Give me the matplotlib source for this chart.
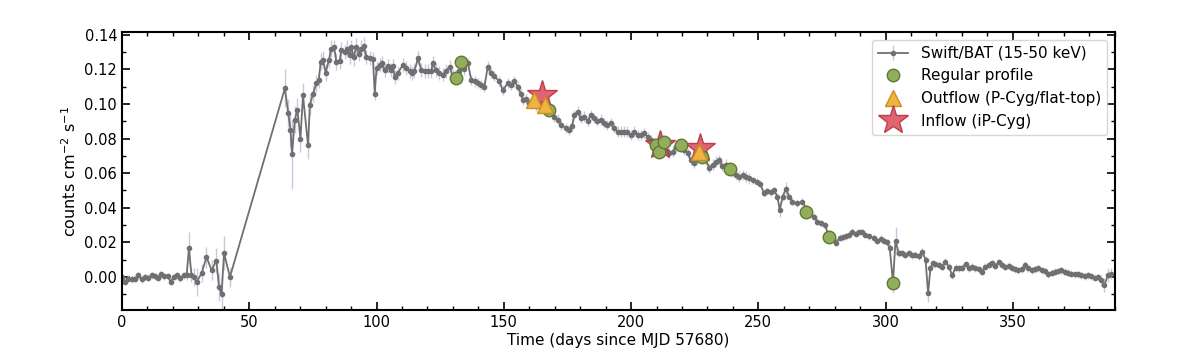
import numpy as np
import matplotlib.pyplot as plt

# Swift/BAT light curve (days since MJD 57680, counts cm^-2 s^-1)
t_quiet = [0.0, 1.2, 2.5, 3.8, 5.1, 6.4, 7.7, 9.0, 10.3, 11.6, 12.9, 14.1, 15.4, 16.7, 18.0, 19.1,
           20.3, 21.6, 22.9, 24.2, 25.4, 26.3, 27.3, 28.3, 29.3, 31.3, 33.2, 35.2, 37.1, 38.1, 39.1,
           40.1, 42.4]
f_quiet = [0.000, -0.0027, -0.001, -0.0012, -0.001, 0.001, -0.0014, 0.000, -0.0005, 0.001, 0.0005,
           -0.0005, 0.0015, 0.0005, 0.0005, -0.0027, 0.000, 0.001, -0.0008, 0.001, 0.001, 0.0168,
           0.001, 0.000, -0.003, 0.0023, 0.0115, 0.004, 0.0095, -0.0056, -0.010, 0.0138, 0.000]
e_quiet = [0.002, 0.002, 0.002, 0.002, 0.002, 0.002, 0.002, 0.002, 0.002, 0.002, 0.002, 0.002,
           0.002, 0.002, 0.002, 0.002, 0.002, 0.002, 0.002, 0.002, 0.003, 0.009, 0.004, 0.005,
           0.008, 0.005, 0.006, 0.006, 0.007, 0.008, 0.010, 0.010, 0.006]

t_rise = [64.0, 65.3, 66.2, 66.8, 67.9, 68.9, 70.1, 71.1, 73.1, 73.8, 75.1, 76.4, 77.3, 78.1, 79.0,
          80.0, 81.3, 82.3, 83.3, 84.2, 85.5, 86.2, 87.5, 88.4, 89.4, 90.1, 91.0, 92.1, 93.1, 94.0,
          95.1, 96.0, 97.3, 98.6, 99.3, 100.0]
f_rise = [0.109, 0.0947, 0.085, 0.071, 0.091, 0.0966, 0.080, 0.105, 0.076, 0.0995, 0.106, 0.112,
          0.114, 0.1245, 0.1255, 0.118, 0.1255, 0.132, 0.133, 0.1245, 0.125, 0.131, 0.130, 0.132,
          0.128, 0.133, 0.127, 0.133, 0.129, 0.132, 0.1335, 0.127, 0.1265, 0.126, 0.106, 0.1207]
e_rise = [0.011, 0.008, 0.010, 0.020, 0.008, 0.007, 0.008, 0.007, 0.008, 0.006, 0.005, 0.005,
          0.005, 0.005, 0.005, 0.005, 0.005, 0.005, 0.004, 0.005, 0.005, 0.005, 0.004, 0.005,
          0.005, 0.004, 0.005, 0.005, 0.004, 0.005, 0.005, 0.004, 0.004, 0.004, 0.004, 0.004]

t_peak = [101.2, 102.3, 103.2, 104.5, 105.8, 106.4, 107.1, 108.4, 110.4, 111.7, 113.0, 114.0, 114.9,
          116.3, 117.6, 118.9, 120.2, 121.5, 122.1, 123.4, 124.7, 126.0, 127.3, 128.7, 130.0, 131.3,
          132.5, 134.5, 135.9, 137.2, 138.5, 139.8, 141.1, 142.4, 143.7, 145.0, 146.3, 148.3, 149.6]
f_peak = [0.1226, 0.1235, 0.1195, 0.122, 0.1195, 0.122, 0.1158, 0.118, 0.1226, 0.1207, 0.1188, 0.118,
          0.119, 0.1265, 0.1195, 0.119, 0.119, 0.119, 0.1235, 0.1195, 0.118, 0.117, 0.119, 0.1216,
          0.116, 0.117, 0.119, 0.120, 0.1235, 0.114, 0.113, 0.112, 0.111, 0.110, 0.1216, 0.118,
          0.116, 0.113, 0.108]
e_peak = [0.004, 0.004, 0.004, 0.004, 0.004, 0.004, 0.004, 0.004, 0.004, 0.004, 0.004, 0.004, 0.004,
          0.004, 0.004, 0.004, 0.004, 0.004, 0.004, 0.004, 0.004, 0.004, 0.004, 0.004, 0.004, 0.003,
          0.003, 0.003, 0.003, 0.003, 0.003, 0.003, 0.003, 0.003, 0.003, 0.003, 0.003, 0.003, 0.003]

t_decay1 = [151.6, 152.9, 154.2, 155.5, 156.7, 157.6, 158.7, 160.0, 161.4, 162.7, 164.0, 165.3,
            166.5, 167.9, 169.9, 171.2, 172.5, 174.5, 175.8, 176.8, 177.7, 179.0, 180.3, 181.6,
            182.9, 184.2, 185.5, 186.8, 188.1, 189.4, 190.7, 192.0, 193.4, 194.7, 196.0, 197.3,
            198.6, 200.0, 201.3, 202.6, 203.9, 205.2, 206.5, 207.8]
f_decay1 = [0.112, 0.111, 0.113, 0.110, 0.106, 0.1024, 0.103, 0.1005, 0.101, 0.099, 0.100, 0.0985,
            0.0975, 0.096, 0.0927, 0.091, 0.088, 0.086, 0.085, 0.087, 0.0937, 0.0956, 0.092, 0.0927,
            0.090, 0.0937, 0.092, 0.090, 0.091, 0.089, 0.088, 0.089, 0.086, 0.084, 0.084, 0.084,
            0.084, 0.082, 0.084, 0.082, 0.082, 0.083, 0.081, 0.079]
e_decay1 = [0.003, 0.003, 0.003, 0.003, 0.003, 0.003, 0.003, 0.003, 0.003, 0.003, 0.003, 0.003,
            0.003, 0.003, 0.003, 0.003, 0.003, 0.003, 0.003, 0.003, 0.003, 0.003, 0.003, 0.003,
            0.003, 0.003, 0.003, 0.003, 0.003, 0.003, 0.003, 0.003, 0.003, 0.003, 0.003, 0.003,
            0.003, 0.003, 0.003, 0.003, 0.003, 0.003, 0.003, 0.003]

t_decay2 = [209.0, 210.3, 211.7, 213.0, 214.0, 215.0, 216.3, 217.6, 218.9, 220.9, 222.2, 223.5,
            224.8, 226.0, 227.3, 228.5, 229.3, 230.7, 232.0, 233.3, 234.6, 235.9, 237.2, 238.5,
            239.8, 241.2, 242.5, 243.8, 245.1, 246.4]
f_decay2 = [0.078, 0.077, 0.075, 0.0745, 0.073, 0.0716, 0.0725, 0.075, 0.076, 0.0735, 0.0716, 0.0677,
            0.066, 0.068, 0.071, 0.069, 0.068, 0.063, 0.065, 0.0667, 0.0677, 0.064, 0.065, 0.063,
            0.061, 0.059, 0.058, 0.059, 0.058, 0.057]
e_decay2 = [0.003, 0.003, 0.003, 0.003, 0.003, 0.003, 0.003, 0.003, 0.003, 0.003, 0.003, 0.003,
            0.003, 0.003, 0.003, 0.003, 0.003, 0.003, 0.003, 0.003, 0.003, 0.003, 0.003, 0.003,
            0.003, 0.003, 0.003, 0.003, 0.003, 0.003]

t_decay3 = [248.0, 249.3, 250.6, 252.3, 253.6, 254.9, 256.2, 257.5, 258.4, 259.6, 260.8, 262.1,
            263.4, 265.3, 267.3, 268.6, 270.0, 271.9, 273.2, 274.5, 276.2, 277.6, 279.2, 280.6,
            281.9, 283.2, 284.5, 285.8, 286.9, 288.2, 289.5, 290.8, 292.1, 293.4, 295.4, 296.7,
            298.0, 299.3, 300.6, 301.6, 302.9, 303.9]
f_decay3 = [0.056, 0.055, 0.054, 0.0484, 0.0495, 0.049, 0.050, 0.0465, 0.0388, 0.0465, 0.051, 0.0465,
            0.0436, 0.0425, 0.0436, 0.040, 0.037, 0.0349, 0.032, 0.031, 0.030, 0.024, 0.022, 0.0199,
            0.0226, 0.023, 0.0235, 0.0245, 0.0262, 0.025, 0.026, 0.026, 0.0245, 0.0236, 0.0226, 0.021,
            0.022, 0.021, 0.020, 0.017, -0.003, 0.021]
e_decay3 = [0.002, 0.002, 0.002, 0.002, 0.002, 0.002, 0.002, 0.002, 0.004, 0.002, 0.004, 0.002,
            0.002, 0.002, 0.002, 0.002, 0.002, 0.002, 0.002, 0.002, 0.002, 0.002, 0.002, 0.002,
            0.002, 0.002, 0.002, 0.002, 0.002, 0.002, 0.002, 0.002, 0.002, 0.002, 0.002, 0.002,
            0.002, 0.002, 0.002, 0.002, 0.006, 0.008]

t_tail = [305.2, 306.5, 307.8, 309.1, 310.4, 311.7, 313.0, 314.4, 315.7, 316.7, 317.6, 318.5, 319.6,
          320.9, 322.2, 323.5, 324.8, 326.2, 327.5, 328.8, 330.1, 331.4, 332.7, 334.0, 335.3, 336.6,
          337.9, 339.2, 340.5, 341.8, 343.1, 344.4, 345.7, 347.0, 348.3, 349.6, 350.9, 352.2, 353.5,
          354.8, 356.1, 357.4, 358.7, 360.0, 361.3, 362.6, 363.9, 365.2, 366.5, 367.8, 369.1, 370.4,
          371.7, 373.0, 374.3, 375.6, 376.9, 378.2, 379.5, 380.8, 382.1, 383.4, 384.7, 386.0, 387.3,
          388.6]
f_tail = [0.0137, 0.0137, 0.0130, 0.0137, 0.0125, 0.0130, 0.0120, 0.0146, 0.0100, -0.0094, 0.0050,
          0.0079, 0.0075, 0.0070, 0.0060, 0.0089, 0.0060, 0.0010, 0.0055, 0.0050, 0.0055, 0.0075,
          0.0050, 0.0060, 0.0050, 0.0045, 0.0030, 0.0060, 0.0070, 0.0080, 0.0065, 0.0085, 0.0070,
          0.0060, 0.0065, 0.0055, 0.0045, 0.0040, 0.0045, 0.0070, 0.0050, 0.0040, 0.0045, 0.0050,
          0.0040, 0.0035, 0.0015, 0.0025, 0.0030, 0.0035, 0.0040, 0.0030, 0.0025, 0.0020, 0.0015,
          0.0015, 0.0010, 0.0005, 0.0010, 0.0005, -0.0005, 0.0000, -0.0020, -0.0046, 0.0010, 0.0020]
e_tail = [0.002, 0.002, 0.002, 0.002, 0.002, 0.002, 0.002, 0.002, 0.002, 0.005, 0.002, 0.002, 0.002,
          0.002, 0.002, 0.002, 0.002, 0.002, 0.002, 0.002, 0.002, 0.002, 0.002, 0.002, 0.002, 0.002,
          0.002, 0.002, 0.002, 0.002, 0.002, 0.002, 0.002, 0.002, 0.002, 0.002, 0.002, 0.002, 0.002,
          0.002, 0.002, 0.002, 0.002, 0.002, 0.002, 0.002, 0.002, 0.002, 0.002, 0.002, 0.002, 0.002,
          0.002, 0.002, 0.002, 0.002, 0.002, 0.002, 0.002, 0.002, 0.002, 0.002, 0.003, 0.004, 0.004,
          0.003]

# spectral epochs
t_regular = [131.3, 133.2, 167.9, 209.8, 211.0, 213.0, 219.6, 228.0, 238.8, 268.9, 277.8, 302.9]
f_regular = [0.115, 0.1245, 0.0966, 0.0763, 0.0725, 0.078, 0.0763, 0.0696, 0.0623, 0.0378, 0.023, -0.0033]
t_outflow = [161.8, 166.0, 226.8]
f_outflow = [0.1024, 0.0995, 0.0720]
t_inflow = [165.2, 211.5, 227.2]
f_inflow = [0.105, 0.0763, 0.0746]

t = np.concatenate([t_quiet, t_rise, t_peak, t_decay1, t_decay2, t_decay3, t_tail])
f = np.concatenate([f_quiet, f_rise, f_peak, f_decay1, f_decay2, f_decay3, f_tail])
e = np.concatenate([e_quiet, e_rise, e_peak, e_decay1, e_decay2, e_decay3, e_tail])

fig = plt.figure(figsize=(11.96, 3.49), dpi=100)
ax = fig.add_axes([0.102, 0.112, 0.830, 0.796])

bat = ax.errorbar(t, f, yerr=e, fmt='o-', color='#707070', ecolor='#c8c8e4', ms=3, lw=1.3,
                  elinewidth=1, capsize=0, zorder=2, label='Swift/BAT (15-50 keV)')
inflow, = ax.plot(t_inflow, f_inflow, '*', ms=22, color='#dc5560', mec='#b8323f', alpha=0.9,
                  zorder=3, label='Inflow (iP-Cyg)')
regular, = ax.plot(t_regular, f_regular, 'o', ms=9, color='#92ad5c', mec='#5e7a32', mew=1,
                   zorder=4, label='Regular profile')
outflow, = ax.plot(t_outflow, f_outflow, '^', ms=12, color='#eeb340', mec='#c98f22', mew=1,
                   zorder=5, label='Outflow (P-Cyg/flat-top)')

ax.set_xlim(0, 390)
ax.set_ylim(-0.019, 0.1415)
ax.set_xticks(np.arange(0, 351, 50))
ax.set_xticks(np.arange(0, 391, 10), minor=True)
ax.set_yticks(np.arange(0, 0.141, 0.02))
ax.set_yticks(np.arange(-0.01, 0.141, 0.01), minor=True)
ax.tick_params(which='both', direction='in', top=True, right=True, labelsize=10.5)
ax.tick_params(which='major', length=6, width=1.2)
ax.tick_params(which='minor', length=3, width=1)
for s in ax.spines.values():
    s.set_linewidth(1.5)

ax.set_xlabel('Time (days since MJD 57680)', fontsize=11, labelpad=2)
ax.set_ylabel('counts cm$^{-2}$ s$^{-1}$', fontsize=11.5)

ax.legend([bat, regular, outflow, inflow],
          ['Swift/BAT (15-50 keV)', 'Regular profile', 'Outflow (P-Cyg/flat-top)', 'Inflow (iP-Cyg)'],
          loc='upper right', fontsize=11, borderaxespad=0.5)

fig.savefig('out.png', dpi=100)
